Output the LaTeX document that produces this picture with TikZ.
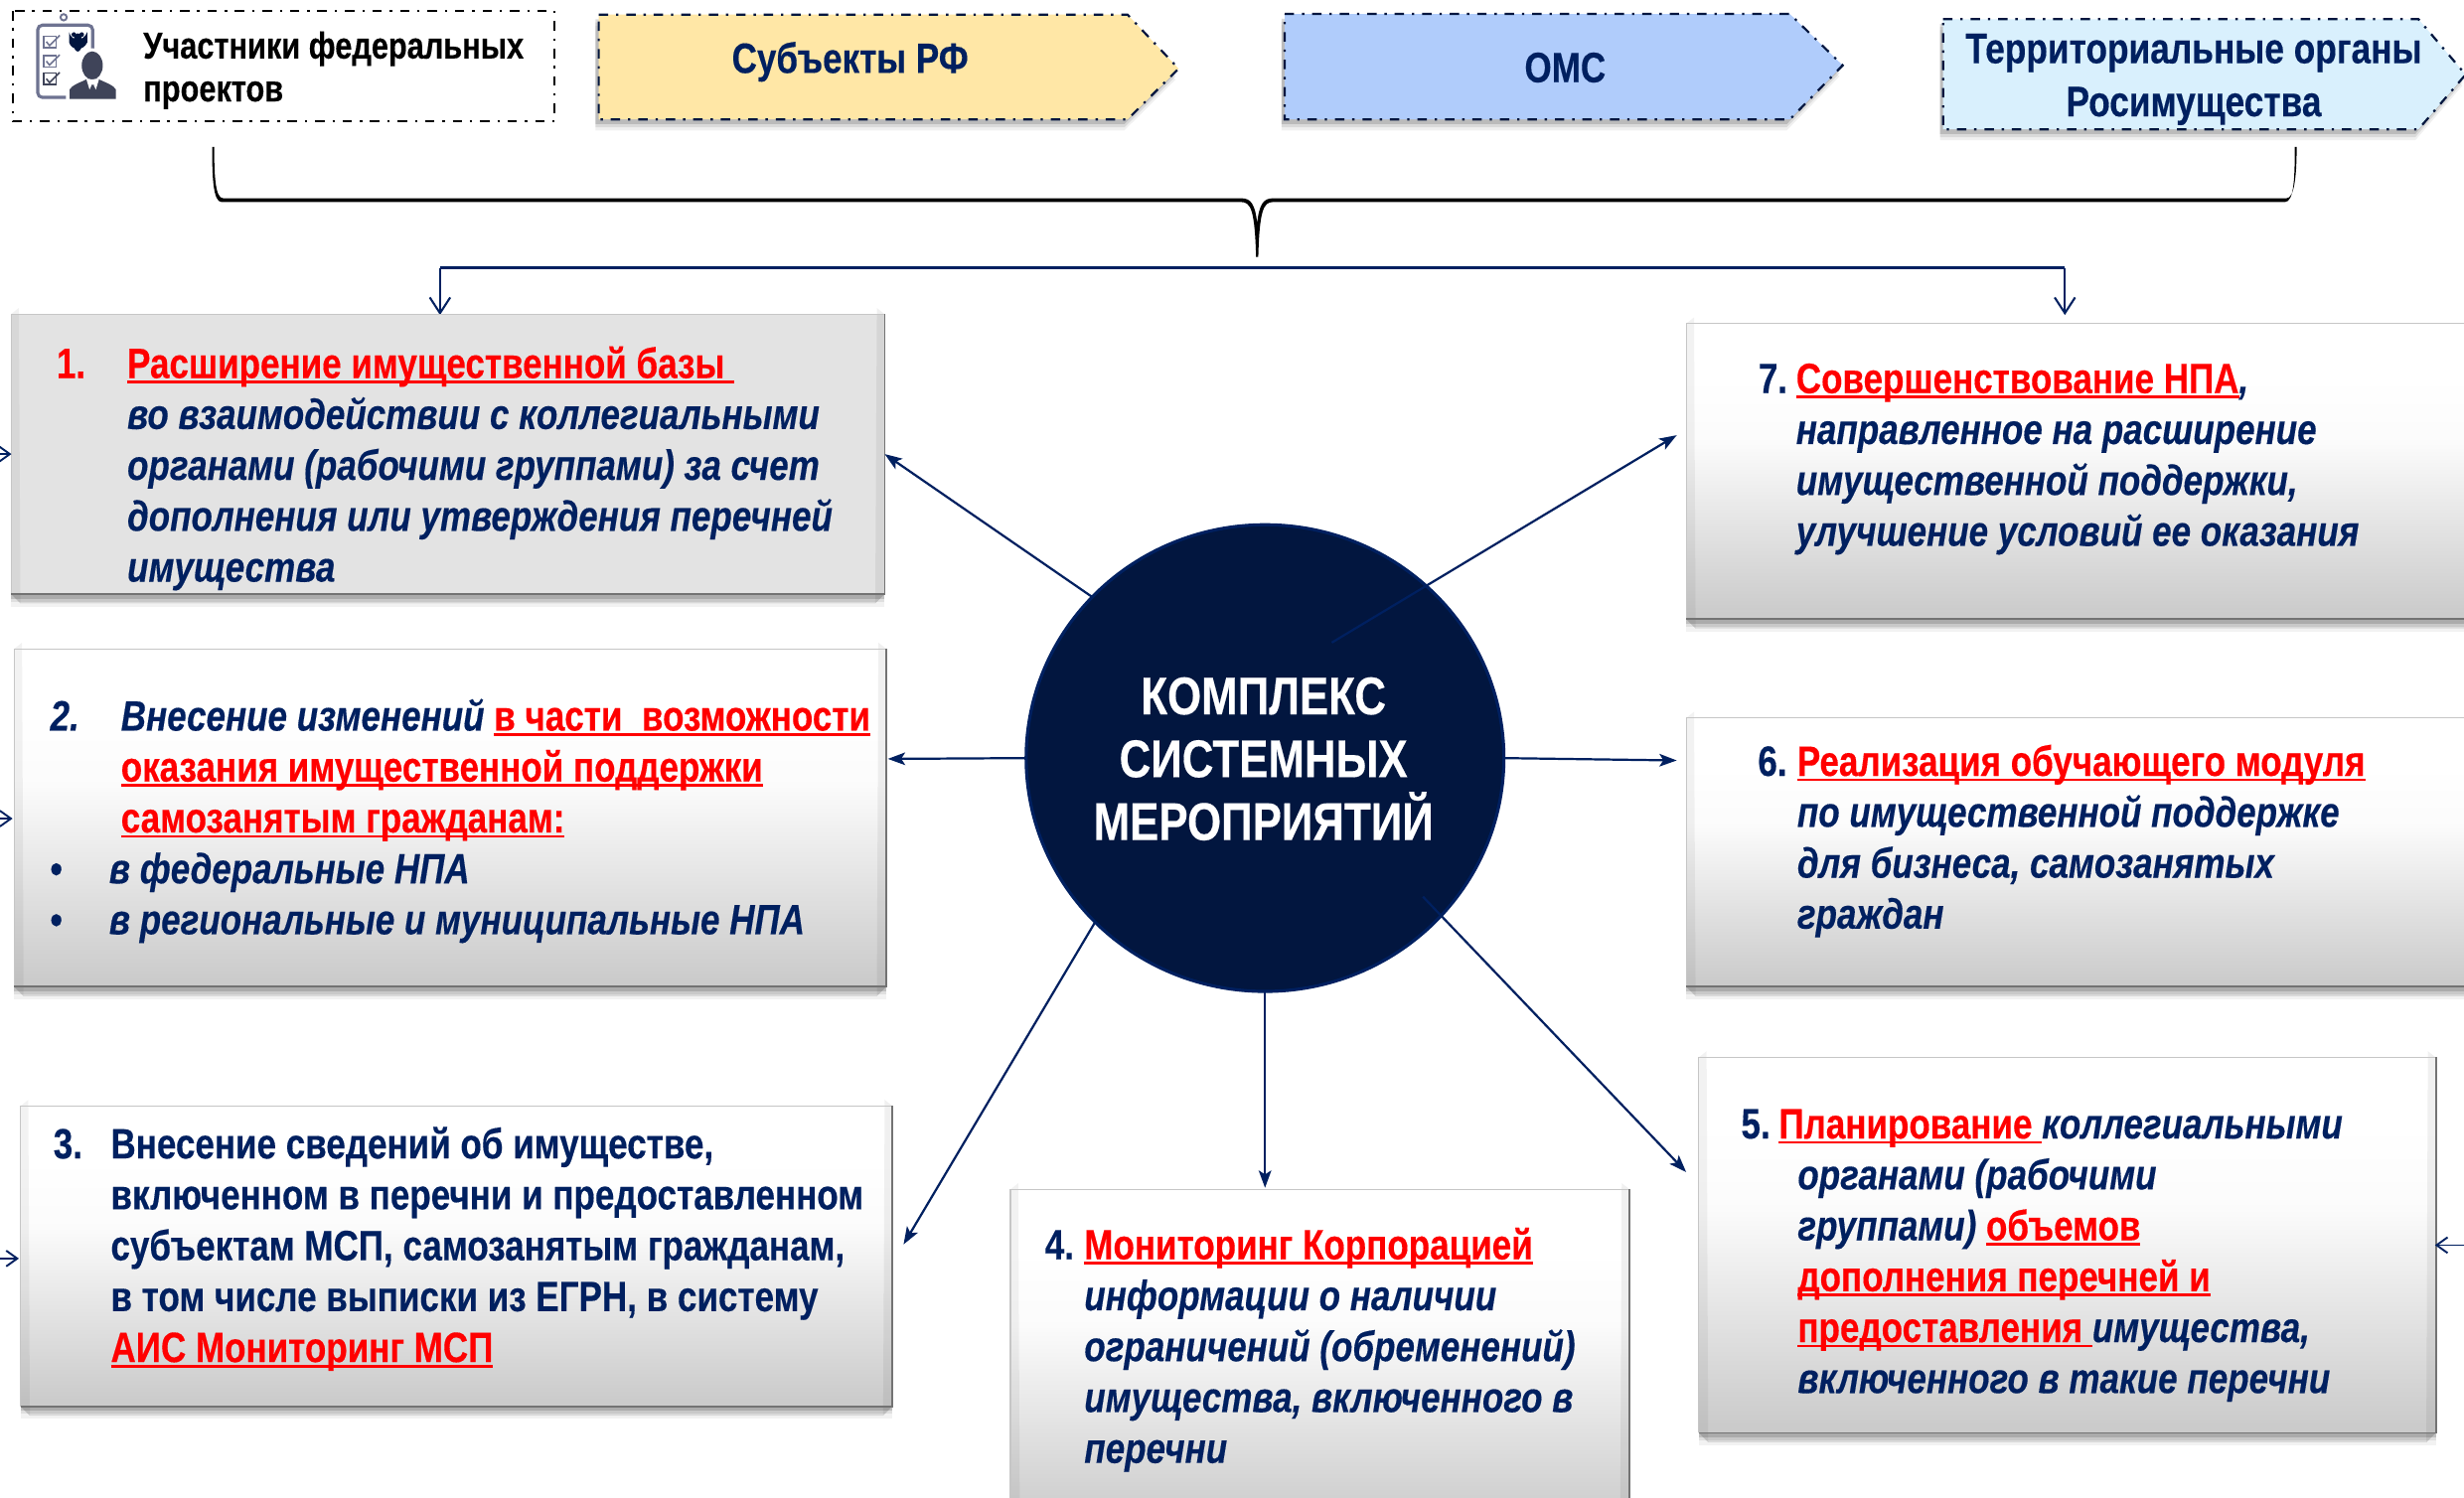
\documentclass[tikz,border=0pt]{standalone}
\usepackage{fontspec}
\setmainfont{Liberation Sans}[FakeStretch=0.82,BoldFeatures={FakeBold=0.3},BoldItalicFeatures={FakeBold=0.3}]
\usetikzlibrary{arrows.meta,calc,shapes.geometric}
\definecolor{navy}{HTML}{002060}
\definecolor{hubfill}{HTML}{02163F}
\definecolor{ptA}{HTML}{FFE7A6}
\definecolor{ptB}{HTML}{B0CCFB}
\definecolor{ptC}{HTML}{D9F0FD}
\definecolor{gA}{HTML}{CBCBCB}
\definecolor{icA}{HTML}{6E7391}
\definecolor{icB}{HTML}{3F4459}
\pgfdeclareverticalshading{boxgrad}{100bp}{color(0bp)=(gA);color(26bp)=(gA);color(55bp)=(white!93!gA);color(66bp)=(white);color(100bp)=(white)}
\newsavebox\ulbox
\newcommand\ulr[1]{\sbox\ulbox{\color{red}#1}\rlap{\color{red}\rule[-3.4pt]{\wd\ulbox}{1.7pt}}\usebox\ulbox}
\newcommand\redt[1]{{\color{red}#1}}
\newcommand\itx[1]{{\itshape #1}}
\newcommand\fl{\rule{0pt}{26pt}}
\newcommand\numl[2]{\makebox[#1pt][l]{#2}}
\newcommand\mybox[6]{%
  \foreach \d/\o in {8/.05,5/.08,3/.14}{\fill[black,opacity=\o] (#2,#3+\d) rectangle (#2+#4,#3+#5+\d);}
  \node[#6,minimum width=#4pt,minimum height=#5pt,anchor=north west] (#1) at (#2,#3) {};
  \fill[black,opacity=.10] (#1.south west) -- (#1.south east) -- ($(#1.south east)+(-6,6)$) -- ($(#1.south west)+(6,6)$) -- cycle;
  \fill[black,opacity=.06] (#1.south east) -- (#1.north east) -- ($(#1.north east)+(-5,-4)$) -- ($(#1.south east)+(-6,6)$) -- cycle;
  \fill[black,opacity=.05] (#1.south west) -- (#1.north west) -- ($(#1.north west)+(5,-4)$) -- ($(#1.south west)+(6,6)$) -- cycle;
  \draw[gray!45,line width=.7pt] (#1.south west) -- (#1.north west) -- (#1.north east);
  \draw[black!55,line width=1.2pt] (#1.north east) -- (#1.south east) -- (#1.south west);
}
\newcommand\pent[7]{% x1 y1 shoulder x-tip y-tip y2 colour
  \foreach \d/\o in {7/.06,5/.09,3/.14}{\fill[black,opacity=\o,shift={(-2,\d)}] (#1,#2) -- (#3,#2) -- (#4,#5) -- (#3,#6) -- (#1,#6) -- cycle;}
  \draw[dashdot,fill=#7] (#1,#2) -- (#3,#2) -- (#4,#5) -- (#3,#6) -- (#1,#6) -- cycle;
}
\tikzset{
  x=1pt,y=-1pt,
  dashdot/.style={draw=hubfill,line width=1.4pt,dash pattern=on 6pt off 5pt on 1.5pt off 5pt},
  conn/.style={draw=navy,line width=1.4pt,-{Stealth[length=11pt,width=8pt,inset=2.5pt]}},
  barb/.style={draw=navy,line width=1.3pt,-{Straight Barb[length=10pt,width=13pt]}},
  flatbox/.style={rectangle,inner sep=0pt,outer sep=0pt,fill=black!11},
  gradbox/.style={rectangle,inner sep=0pt,outer sep=0pt,shading=boxgrad},
  body/.style={anchor=north west,inner sep=0pt,outer sep=0pt,align=left,text=navy,font=\fontsize{27}{32.4}\selectfont\bfseries},
  head/.style={anchor=base,inner sep=0pt,outer sep=0pt,text=navy,font=\fontsize{27}{32}\selectfont\bfseries},
}
\begin{document}
\begin{tikzpicture}
\useasboundingbox (0,0) rectangle (1568,953.4);
\clip (0,0) rectangle (1568,953.4);
\fill[white] (0,0) rectangle (1568,953.4);

% top row
\draw[dashdot,draw=black] (8,7) rectangle (353,77);
% icon
\draw[icA,line width=1.2pt] (40.5,11) circle (2);
\draw[icA,line width=2pt,rounded corners=3pt] (24,16) rectangle (59,62);
\foreach \yy/\cc in {23/icA,35.4/icA,46.6/icB}{
  \draw[\cc,line width=1pt] (28,\yy) rectangle (35.8,\yy+7.2);
  \draw[\cc,line width=1pt] (29.5,\yy+3.5) -- (31.5,\yy+6) -- (38,\yy-.5);
}
% emblem
\fill[hubfill] (49.5,27) ellipse (2.8 and 5.8);
\fill[hubfill] (44,20.5) .. controls (45,24) and (47,25) .. (49.5,25) .. controls (52,25) and (54,24) .. (55.5,20.5) -- (55.5,27) .. controls (54,30) and (52,31) .. (49.5,31) .. controls (47,31) and (45,30) .. (44,27) -- cycle;
\fill[hubfill] (47,22) circle (1.5) (52,22) circle (1.5);
% person
\fill[white] (58.7,41.7) ellipse (8.5 and 11);
\fill[white] (42,64) -- (42,56) -- (53,48) -- (66,48) -- (76,56) -- (76,64) -- cycle;
\fill[icB] (58.7,41.7) ellipse (6.7 and 9);
\fill[icB] (44.3,63) -- (44.3,57) .. controls (46,54) and (50,53) .. (55,50.5) -- (63,50.5) .. controls (68,53) and (72,54) .. (73.8,57) -- (73.8,63) -- cycle;
\fill[white] (55,50.5) -- (63,50.5) -- (61,57) -- (60,55) -- (58,55) -- (57,57) -- cycle;
\fill[icB] (58.2,54) -- (59.8,54) -- (60.4,61) -- (59,62) -- (57.6,61) -- cycle;
\node[anchor=north west,inner sep=0pt,align=left,text=black,font=\fontsize{23.7}{27.3}\selectfont\bfseries] (parts) at (91,12) {\rule{0pt}{25pt}Участники федеральных\\проектов};

\pent{381}{9.3}{717.5}{750}{43.7}{76}{ptA}
\node[head] (subj) at (541,46.4) {Субъекты РФ};
\pent{817.5}{8.9}{1139}{1172.6}{41.6}{76}{ptB}
\node[head] (oms) at (996,52.3) {ОМС};
\pent{1236.5}{12.2}{1539}{1569}{47.5}{82.3}{ptC}
\node[anchor=north,inner sep=0pt,align=center,text=navy,font=\fontsize{27.2}{33.8}\selectfont\bfseries] (terr) at (1396,14) {\rule{0pt}{26pt}Территориальные органы\\Росимущества};

% brace
\fill[black] (136.3,93.5) .. controls (136.3,112) and (137,126.2) .. (142,126.2) -- (790,126.2) .. controls (796,126.2) and (798.7,130) .. (800,142) .. controls (801.3,130) and (804,126.2) .. (810,126.2) -- (1455,126.2) .. controls (1460,126.2) and (1461.5,112) .. (1461.5,93.5)
  -- (1460.3,93.5) .. controls (1460.3,112) and (1460,128.6) .. (1454,128.6) -- (810,128.6) .. controls (804,128.6) and (801.5,134) .. (800.7,163.5)
  -- (799.3,163.5) .. controls (798.5,134) and (796,128.6) .. (790,128.6) -- (141,128.6) .. controls (135.5,128.6) and (135,112) .. (135,93.5) -- cycle;

% bracket
\coordinate (brl) at (280,170.5);
\coordinate (brr) at (1314,170.5);
\coordinate (tipa) at (280,200.5);
\coordinate (tipb) at (1314,200.5);
\draw[navy,line width=1.6pt] (brl) -- (brr);
\draw[barb] (brl) -- (tipa);
\draw[barb] (brr) -- (tipb);

% boxes
\mybox{b1}{7}{200}{556}{178}{flatbox}
\mybox{b2}{9}{413}{555}{215}{gradbox}
\mybox{b3}{13}{704}{555}{191}{gradbox}
\mybox{b4}{643}{757}{394}{215}{gradbox}
\mybox{b5}{1081}{673}{469}{239}{gradbox}
\mybox{b6}{1073}{457}{520}{171}{gradbox}
\mybox{b7}{1073}{206}{520}{188}{gradbox}

% texts
\node[body] (t1) at (36,214.6) {\fl\numl{45}{\redt{1.}}\ulr{Расширение имущественной базы\ }\\
  \hspace*{45pt}\itx{во взаимодействии с коллегиальными}\\
  \hspace*{45pt}\itx{органами (рабочими группами) за счет}\\
  \hspace*{45pt}\itx{дополнения или утверждения перечней}\\
  \hspace*{45pt}\itx{имущества}};
\node[body] (t2) at (32,439) {\fl\numl{45}{\itx{2.}}\itx{Внесение изменений }\ulr{в части\ \ возможности}\\
  \hspace*{45pt}\ulr{оказания имущественной поддержки}\\
  \hspace*{45pt}\ulr{самозанятым гражданам:}\\
  \numl{37.5}{•}\itx{в федеральные НПА}\\
  \numl{37.5}{•}\itx{в региональные и муниципальные НПА}};
\node[body] (t3) at (34,711.3) {\fl\numl{36.5}{3.}Внесение сведений об имуществе,\\
  \hspace*{36.5pt}включенном в перечни и предоставленном\\
  \hspace*{36.5pt}субъектам МСП, самозанятым гражданам,\\
  \hspace*{36.5pt}в том числе выписки из ЕГРН, в систему\\
  \hspace*{36.5pt}\ulr{АИС Мониторинг МСП}};
\node[body] (t4) at (665,775.5) {\fl\numl{25}{4.}\ulr{Мониторинг Корпорацией}\\
  \hspace*{25pt}\itx{информации о наличии}\\
  \hspace*{25pt}\itx{ограничений (обременений)}\\
  \hspace*{25pt}\itx{имущества, включенного в}\\
  \hspace*{25pt}\itx{перечни}};
\node[body] (t5) at (1108,698.6) {\fl\numl{24}{5.}\ulr{Планирование\ }\itx{коллегиальными}\\
  \hspace*{36pt}\itx{органами (рабочими}\\
  \hspace*{36pt}\itx{группами) }\ulr{объемов}\\
  \hspace*{36pt}\ulr{дополнения перечней и}\\
  \hspace*{36pt}\ulr{предоставления\ }\itx{имущества,}\\
  \hspace*{36pt}\itx{включенного в такие перечни}};
\node[body] (t6) at (1118.7,467.8) {\fl\numl{25}{6.}\ulr{Реализация обучающего модуля}\\
  \hspace*{25pt}\itx{по имущественной поддержке}\\
  \hspace*{25pt}\itx{для бизнеса, самозанятых}\\
  \hspace*{25pt}\itx{граждан}};
\node[body] (t7) at (1119,224.2) {\fl\numl{24}{7.}\ulr{Совершенствование НПА}\itx{,}\\
  \hspace*{24pt}\itx{направленное на расширение}\\
  \hspace*{24pt}\itx{имущественной поддержки,}\\
  \hspace*{24pt}\itx{улучшение условий ее оказания}};

% hub
\node[ellipse,minimum width=304pt,minimum height=297pt,inner sep=0pt,outer sep=0pt,fill=hubfill,draw=navy,line width=2pt] (hub) at (805,482.5) {};
\node[align=center,inner sep=0pt,text=white,font=\fontsize{33.8}{40}\selectfont\bfseries] (hublabel) at (804,483) {КОМПЛЕКС\\СИСТЕМНЫХ\\МЕРОПРИЯТИЙ};

% connectors
\coordinate (s7) at (847.5,409);
\coordinate (s5) at (905.5,570.7);
\coordinate (e2) at (565,483);
\coordinate (e3) at (575,792);
\coordinate (e4) at (805,756);
\coordinate (e5) at (1073,746);
\coordinate (e6) at (1067,484);
\coordinate (e7) at (1067,277);
\draw[conn] (hub.137) -- (b1.east);
\draw[conn] (hub.west) -- (e2);
\draw[conn] (hub.224) -- (e3);
\draw[conn] (hub.south) -- (e4);
\draw[conn] (s5) -- (e5);
\draw[conn] (hub.east) -- (e6);
\draw[conn] (s7) -- (e7);

% cut side arrows
\coordinate (l1) at (0,289);
\coordinate (l1e) at (7.3,289);
\coordinate (l2) at (0,521);
\coordinate (l2e) at (8,521);
\coordinate (l3) at (0,801);
\coordinate (l3e) at (12,801);
\coordinate (r5) at (1568,792.5);
\coordinate (r5e) at (1549.5,792.5);
\tikzset{sidearrow/.style={draw=navy,line width=1.2pt,-{Straight Barb[length=7pt,width=10pt]}}}
\draw[sidearrow] (l1) -- (l1e);
\draw[sidearrow] (l2) -- (l2e);
\draw[sidearrow] (l3) -- (l3e);
\draw[sidearrow] (r5) -- (r5e);
\end{tikzpicture}
\end{document}
